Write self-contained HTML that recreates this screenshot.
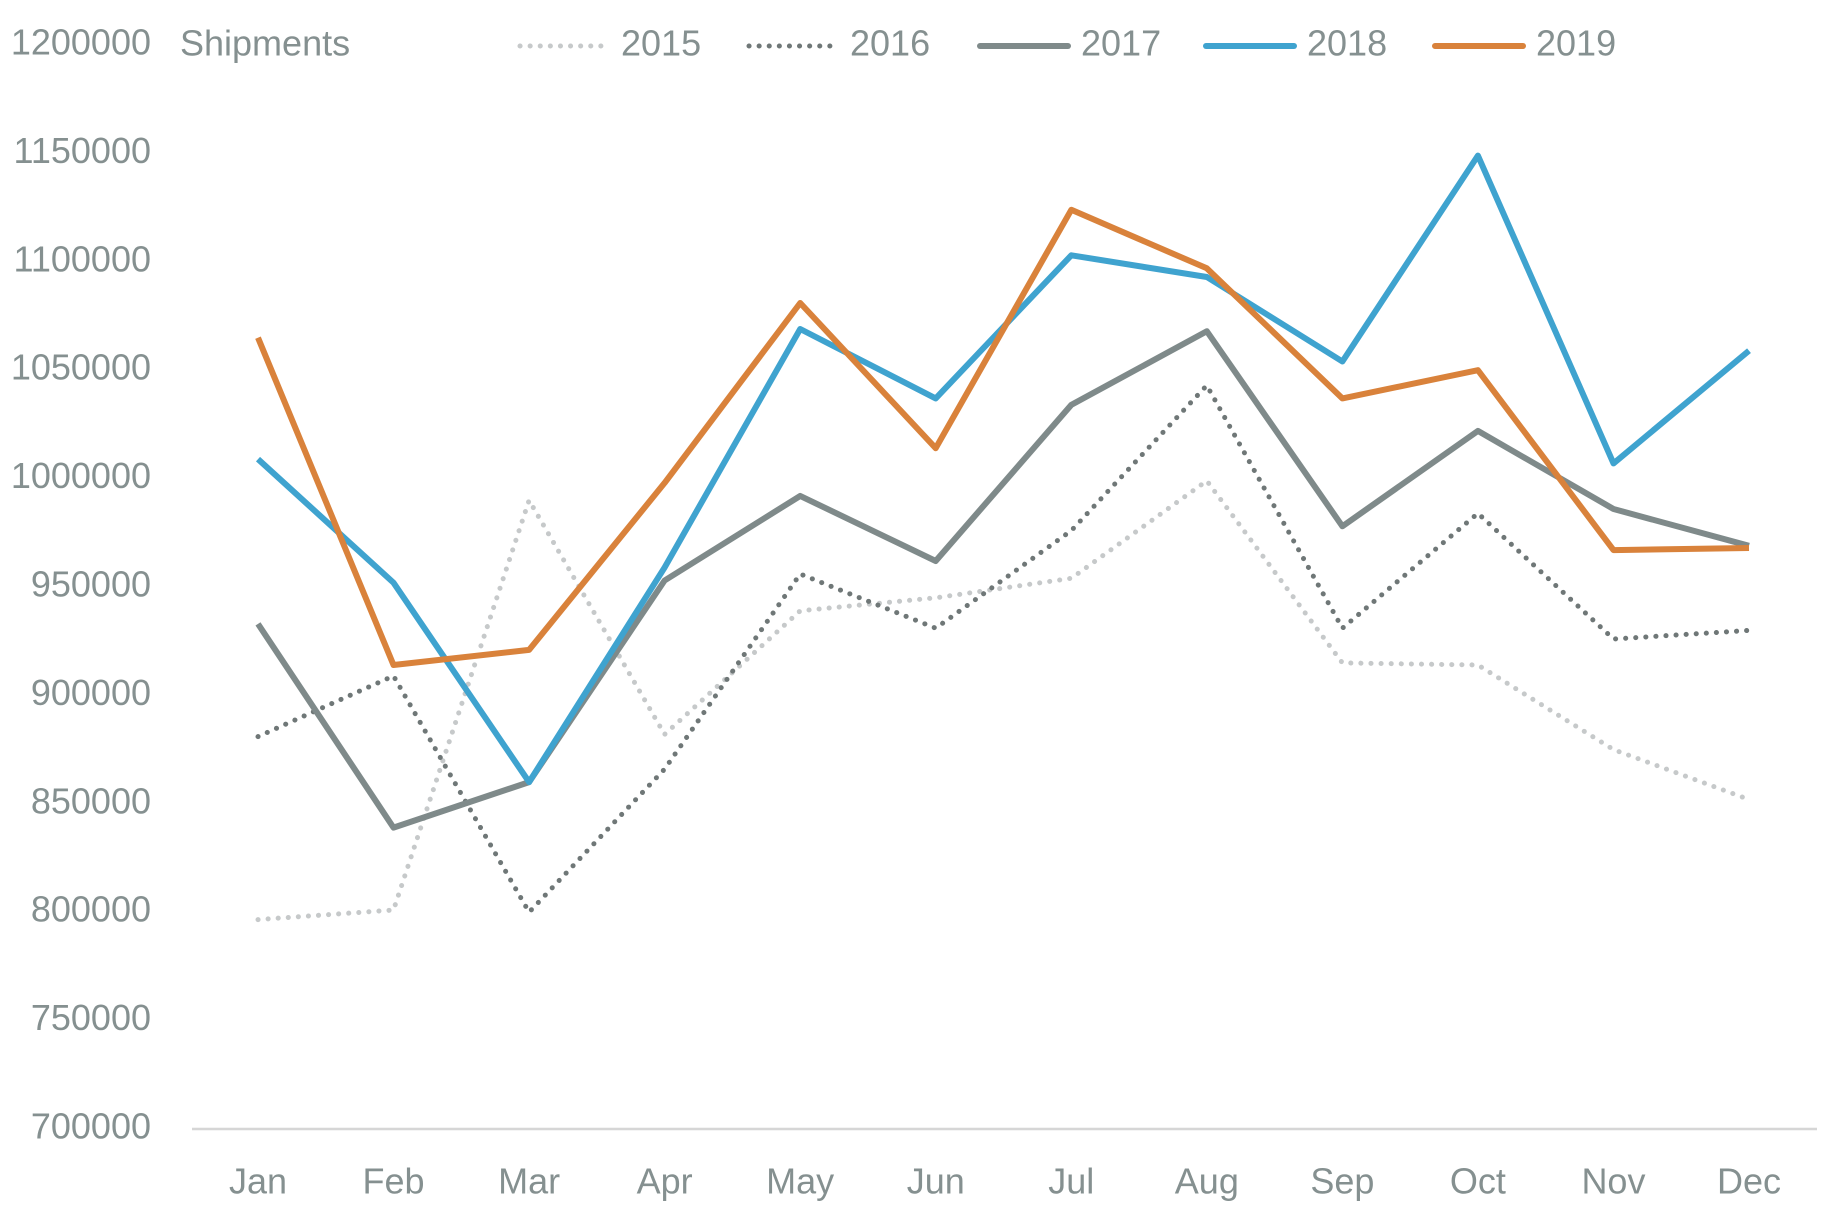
<!DOCTYPE html>
<html><head><meta charset="utf-8"><style>
html,body{margin:0;padding:0;background:#fff;}
svg{display:block;font-family:"Liberation Sans",sans-serif;}
</style></head><body>
<svg id="chart" width="1822" height="1214" viewBox="0 0 1822 1214">
<line x1="192" y1="1129" x2="1817" y2="1129" stroke="#d6d6d6" stroke-width="2.5"/>
<g id="yticks"></g>
<g id="xticks"></g>
<text x="180" y="46" dominant-baseline="middle" font-size="36" fill="#859090">Shipments</text>
<g id="series"></g>
<g id="legend"></g>
</svg>
<script>
const months = ["Jan","Feb","Mar","Apr","May","Jun","Jul","Aug","Sep","Oct","Nov","Dec"];
const yTicks = [700000,750000,800000,850000,900000,950000,1000000,1050000,1100000,1150000,1200000];
const years = ["2015","2016","2017","2018","2019"];
const s2015 = [796600,801000,990000,882000,939000,945000,954000,999000,915000,914000,875000,852000];
const s2016 = [881000,909000,800000,866000,956000,931000,976000,1043000,931000,984000,926000,930000];
const s2017 = [933000,839000,860000,953000,992000,962000,1034000,1068000,978000,1022000,986000,969000];
const s2018 = [1009000,952000,860000,959000,1069000,1037000,1103000,1093000,1054000,1149000,1007000,1059000];
const s2019 = [1065000,914000,921000,998000,1081000,1014000,1124000,1097000,1037000,1050000,967000,968000];

const NS="http://www.w3.org/2000/svg";
const yMin=700000,yMax=1200000,yTop=45,yBot=1129;
function yScale(v){return yBot-(v-yMin)/(yMax-yMin)*(yBot-yTop);}
function xScale(i){return 258+i*(1749-258)/11;}
function mk(tag,attrs,parent){const e=document.createElementNS(NS,tag);for(const k in attrs)e.setAttribute(k,attrs[k]);parent.appendChild(e);return e;}

const yg=document.getElementById('yticks');
yTicks.forEach(v=>{
  const t=mk('text',{x:151,y:yScale(v),'text-anchor':'end','dominant-baseline':'middle','font-size':36,fill:'#859090'},yg);
  
  
  t.textContent=v;
});
const xg=document.getElementById('xticks');
months.forEach((m,i)=>{
  const t=mk('text',{x:xScale(i),y:1184,'text-anchor':'middle','dominant-baseline':'middle','font-size':36,fill:'#859090'},xg);
  
  
  t.textContent=m;
});

const styles=[
  {c:'#c6c9ca',w:5,d:'0.1 10',cap:'round'},
  {c:'#6f7777',w:5,d:'0.1 10',cap:'round'},
  {c:'#7f8a8a',w:6,d:'',cap:'butt'},
  {c:'#3fa3cf',w:6,d:'',cap:'butt'},
  {c:'#d9823b',w:6,d:'',cap:'butt'}
];
const data=[s2015,s2016,s2017,s2018,s2019];
const sg=document.getElementById('series');
data.forEach((arr,si)=>{
  const st=styles[si];
  const pts=arr.map((v,i)=>xScale(i).toFixed(1)+','+yScale(v).toFixed(1)).join(' ');
  const p=mk('polyline',{points:pts,fill:'none',stroke:st.c,'stroke-width':st.w,'stroke-linejoin':'round','stroke-linecap':st.cap},sg);
  if(st.d)p.setAttribute('stroke-dasharray',st.d);
  
  
});

const lg=document.getElementById('legend');
const legX=[520,749,980,1206,1435];
years.forEach((y,i)=>{
  const st=styles[i];
  const g=mk('g',{},lg);
  
  
  const l=mk('line',{x1:legX[i],y1:46,x2:legX[i]+88,y2:46,stroke:st.c,'stroke-width':st.w,'stroke-linecap':st.d?'round':'round'},g);
  if(st.d)l.setAttribute('stroke-dasharray',st.d);
  const t=mk('text',{x:legX[i]+101,y:46,'dominant-baseline':'middle','font-size':36,fill:'#859090'},g);
  t.textContent=y;
});
</script>
</body></html>
